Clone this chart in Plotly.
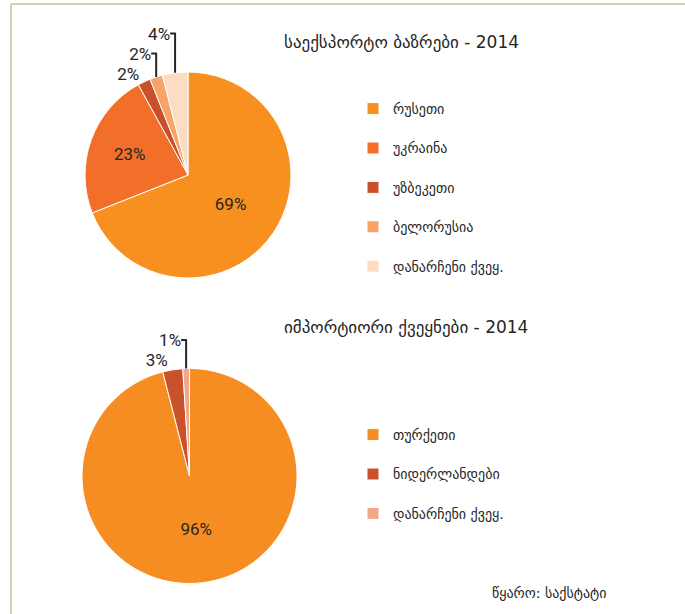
import plotly.graph_objects as go

# ---- data ----
export_title = "საექსპორტო ბაზრები - 2014"
export_labels = ["რუსეთი", "უკრაინა", "უზბეკეთი", "ბელორუსია", "დანარჩენი ქვეყ."]
export_values = [69, 23, 2, 2, 4]
export_colors = ["#F7901E", "#F26F29", "#C9502A", "#F7A36A", "#FDDCC4"]

import_title = "იმპორტიორი ქვეყნები - 2014"
import_labels = ["თურქეთი", "ნიდერლანდები", "დანარჩენი ქვეყ."]
import_values = [96, 3, 1]
import_colors = ["#F68D22", "#C9522A", "#F0A88A"]

source_text = "წყარო: საქსტატი"

W, H = 685, 614
GEO_FONT = "DejaVu Sans"
NUM_FONT = "Roboto"
TEXT_COL = "#262626"


def positions(values, threshold=5):
    return ["inside" if v >= threshold else "outside" for v in values]


def legend_labels(labels, tag=""):
    # blank second line widens the vertical spacing between legend entries;
    # tag keeps identical labels of the two pies apart in their own legends
    return [l + "<br> " + tag for l in labels]


fig = go.Figure()

fig.add_trace(go.Pie(
    labels=legend_labels(export_labels),
    values=export_values,
    marker=dict(colors=export_colors, line=dict(color="white", width=1)),
    sort=False, direction="clockwise", rotation=0,
    texttemplate="%{value}%",
    textposition=positions(export_values),
    textfont=dict(family=NUM_FONT, size=17, color=TEXT_COL),
    insidetextorientation="horizontal",
    domain=dict(x=[85 / W, 291 / W], y=[1 - 278 / H, 1 - 72 / H]),
    legend="legend",
    showlegend=True,
))

fig.add_trace(go.Pie(
    labels=legend_labels(import_labels, "\u200b"),
    values=import_values,
    marker=dict(colors=import_colors, line=dict(color="white", width=1)),
    sort=False, direction="clockwise", rotation=0,
    texttemplate="%{value}%",
    textposition=positions(import_values),
    textfont=dict(family=NUM_FONT, size=17, color=TEXT_COL),
    insidetextorientation="horizontal",
    domain=dict(x=[82 / W, 297 / W], y=[1 - 584 / H, 1 - 368 / H]),
    legend="legend2",
    showlegend=True,
))

legend_common = dict(
    font=dict(family=GEO_FONT, size=14, color=TEXT_COL),
    bgcolor="rgba(0,0,0,0)",
    valign="top",
    xanchor="left", yanchor="top",
    traceorder="normal",
)

fig.update_layout(
    width=W, height=H,
    margin=dict(l=0, r=0, t=0, b=0),
    paper_bgcolor="white",
    plot_bgcolor="white",
    legend=dict(x=353 / W, y=1 - 93 / H, **legend_common),
    legend2=dict(x=353 / W, y=1 - 419 / H, **legend_common),
    annotations=[
        dict(text=export_title, x=282 / W, y=1 - 42 / H, xref="paper", yref="paper",
             xanchor="left", yanchor="middle", showarrow=False,
             font=dict(family=GEO_FONT, size=17, color=TEXT_COL)),
        dict(text=import_title, x=282 / W, y=1 - 327 / H, xref="paper", yref="paper",
             xanchor="left", yanchor="middle", showarrow=False,
             font=dict(family=GEO_FONT, size=17, color=TEXT_COL)),
        dict(text=source_text, x=609 / W, y=1 - 593 / H, xref="paper", yref="paper",
             xanchor="right", yanchor="middle", showarrow=False,
             font=dict(family=GEO_FONT, size=14, color=TEXT_COL)),
    ],
    shapes=[
        dict(type="line", xref="paper", yref="paper", x0=11 / W, x1=1, y0=1 - 4 / H, y1=1 - 4 / H,
             line=dict(color="#D2D0B4", width=2)),
        dict(type="line", xref="paper", yref="paper", x0=11 / W, x1=11 / W, y0=0, y1=1 - 4 / H,
             line=dict(color="#D2D0B4", width=2)),
    ],
)

fig.write_html("out.html", config={"displayModeBar": False},
               post_script="document.body.style.margin='0';")
